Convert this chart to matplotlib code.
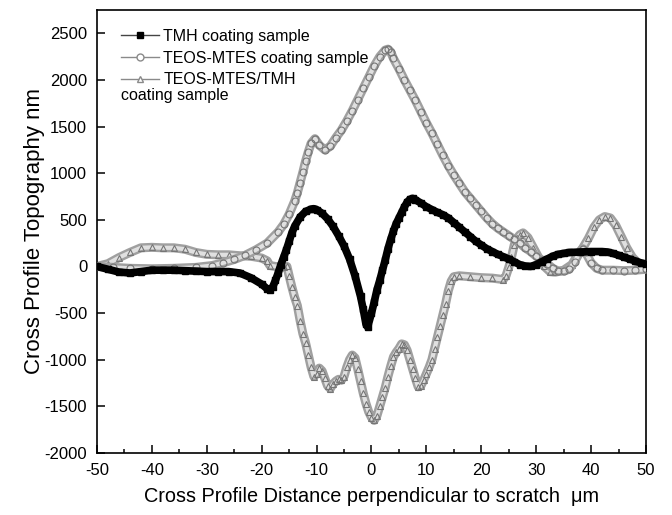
import matplotlib
matplotlib.use("Agg")
import matplotlib.pyplot as plt
from matplotlib.ticker import MultipleLocator
from matplotlib.lines import Line2D

plt.rcParams['font.family'] = ['Liberation Sans', 'DejaVu Sans']
plt.rcParams['axes.unicode_minus'] = False

# ---- data ----
tmh_x = [-50, -48, -46, -44, -42, -40, -38, -36, -34, -32, -30, -28, -26, -24, -22, -20, -19, -18.5, -18, -17.5,
         -17, -16.5, -16, -15.5, -15, -14.5, -14, -13, -12, -11, -10.5, -10, -9, -8, -7, -6, -5, -4, -3, -2,
         -1.5, -1, -0.7, 0, 0.5, 1, 1.5, 2, 2.5, 3, 3.5, 4, 4.5, 5, 5.5, 6, 6.5, 7, 7.5, 8, 9, 10, 11, 12, 13,
         14, 15, 16, 17, 18, 19, 20, 21, 22, 23, 24, 25, 26, 27, 28, 29, 30, 31, 32, 33, 34, 35, 36, 38, 40,
         42, 43, 44, 45, 46, 47, 48, 49, 50]
tmh_y = [0, -30, -60, -70, -55, -40, -40, -40, -45, -50, -55, -55, -55, -70, -120, -190, -240, -250, -220, -150,
         -70, 20, 100, 180, 270, 360, 430, 530, 590, 615, 620, 610, 570, 510, 430, 330, 220, 80, -100, -320,
         -460, -620, -650, -500, -380, -250, -150, -40, 70, 190, 290, 380, 460, 520, 580, 640, 690, 720, 730, 715, 680, 640, 610, 580, 555,
         520, 470, 420, 370, 320, 270, 230, 190, 160, 130, 105, 80, 50, 20, 5, 0, 20, 50, 80, 110, 130, 140, 150, 155, 160,
         160, 155, 140, 120, 100, 80, 60, 40, 25]

teos_x = [-50, -47, -44, -40, -36, -32, -29, -27, -25, -23, -21, -19, -17, -16, -15, -14, -13.5, -13, -12.5, -12,
          -11.5, -11, -10.3, -9.5, -8.5, -7.5, -6.5, -5.5, -4.5, -3.5, -2.5, -1.5, -0.5, 0.5, 1.5, 2.5, 3, 3.5, 4, 5, 6, 7, 8,
          9, 10, 11, 12, 13, 14, 15, 16, 17, 18, 19, 20, 21, 22, 23, 24, 25, 26, 27, 28, 29, 30, 31, 32, 33,
          34, 35, 36, 37, 38, 38.5, 39, 40, 41, 42, 44, 46, 48, 50]
teos_y = [0, -10, -20, -25, -20, -10, 10, 40, 75, 120, 180, 250, 370, 450, 560, 700, 790, 900, 1010, 1130,
          1230, 1320, 1370, 1300, 1250, 1290, 1380, 1460, 1560, 1670, 1790, 1910, 2030, 2150, 2250, 2320, 2330, 2300, 2230, 2120, 2000, 1890, 1780,
          1660, 1540, 1430, 1310, 1190, 1080, 980, 890, 800, 730, 660, 590, 520, 460, 410, 370, 330, 290, 250, 200, 160, 110, 70, 30, -20,
          -50, -50, -30, 50, 160, 190, 150, 40, -20, -40, -40, -45, -40, -30]

mix_x = [-50, -48, -46, -44, -42, -40, -38, -36, -34, -32, -30, -28, -26, -24, -22, -20, -19, -18.5, -17, -16,
         -15.4, -15, -14.5, -14, -13.5, -13, -12.5, -12, -11.5, -11, -10.5, -10, -9.5, -9, -8.5, -8, -7.5, -7, -6.5, -6,
         -5.5, -5, -4.5, -4, -3.5, -3, -2.5, -2, -1.5, -1, -0.5, 0, 0.5, 1, 1.5, 2, 2.5, 3, 3.5, 4, 4.5, 5, 5.5, 6,
         6.5, 7, 7.5, 8, 8.5, 9, 9.5, 10, 10.5, 11, 11.5, 12, 12.5, 13, 13.5, 14, 14.5, 15, 16, 18, 20, 22, 24, 24.5,
         25, 25.5, 26, 26.5, 27, 27.6, 28.5, 29.5, 30.5, 31.5, 32.5, 33.5, 35, 36.5, 37.5, 38.5, 39.5, 40.5, 41.5,
         42.5, 43.5, 44.5, 45.5, 46.5, 47.5, 48.5, 50]
mix_y = [0, 30, 95, 150, 200, 205, 200, 200, 185, 150, 130, 125, 125, 115, 110, 90, 60, 10, -5, -5,
         0, -100, -220, -330, -420, -580, -720, -820, -950, -1080, -1180, -1150, -1090, -1120, -1200, -1280, -1310, -1260, -1230, -1210,
         -1220, -1180, -1080, -1000, -950, -980, -1100, -1230, -1360, -1470, -1560, -1620, -1650, -1600, -1500, -1400, -1300, -1180, -1070, -970, -920, -880, -830, -840,
         -900, -1000, -1100, -1200, -1290, -1280, -1220, -1150, -1080, -1000, -880, -760, -640, -520, -400, -260, -160, -110, -100, -110, -120, -125, -140, -100,
         -10, 100, 230, 300, 340, 360, 310, 200, 90, 0, -55, -60, -40, 20, 120, 200, 300, 420, 500,
         535, 520, 440, 320, 200, 100, 40, 0]

labels = ["TMH coating sample", "TEOS-MTES coating sample", "TEOS-MTES/TMH"]
x_ticks = [-50, -40, -30, -20, -10, 0, 10, 20, 30, 40, 50]
y_ticks = [-2000, -1500, -1000, -500, 0, 500, 1000, 1500, 2000, 2500]

gray = '#8a8a8a'
band = '#a0a0a0'
inner = '#e0e0e0'

fig = plt.figure(figsize=(6.72, 5.15), dpi=100)
ax = fig.add_axes([0.1443, 0.1204, 0.8170, 0.8602])

for xs, ys, mk, z in [(mix_x, mix_y, '^', 2), (teos_x, teos_y, 'o', 3)]:
    ax.plot(xs, ys, '-', color=band, lw=6.5, solid_capstyle='round', solid_joinstyle='round', zorder=z)
    ax.plot(xs, ys, '-', color=inner, lw=3.0, solid_capstyle='round', solid_joinstyle='round', zorder=z)
    ax.plot(xs, ys, 'none', marker=mk, ms=5, mfc='none', mec='#767676', mew=0.8, zorder=z)

ax.plot(tmh_x, tmh_y, '-', color='black', lw=5.5, solid_capstyle='round', solid_joinstyle='round',
        marker='s', ms=5, mfc='black', mec='black', zorder=4)

ax.set_xlim(-50, 50)
ax.set_ylim(-2000, 2750)
ax.set_xticks(x_ticks)
ax.set_yticks(y_ticks)
ax.xaxis.set_minor_locator(MultipleLocator(5))
ax.tick_params(which='major', direction='in', length=6, width=1.1, labelsize=12, top=False, right=False)
ax.tick_params(which='minor', direction='in', length=3, width=1.1, top=False, right=False)
ax.tick_params(axis='x', pad=7)
ax.tick_params(axis='y', pad=7)
for s in ax.spines.values():
    s.set_linewidth(1.2)

ax.set_xlabel("Cross Profile Distance perpendicular to scratch  \u03bcm", fontsize=14.3, labelpad=7)
ax.set_ylabel("Cross Profile Topography nm", fontsize=16, labelpad=0)

leg_handles = [
    Line2D([], [], color='#444444', lw=1, marker='s', ms=4.5, mfc='black', mec='black'),
    Line2D([], [], color=gray, lw=1, marker='o', ms=5, mfc='white', mec=gray),
    Line2D([], [], color=gray, lw=1, marker='^', ms=5, mfc='white', mec=gray),
]
ax.legend(leg_handles, labels, loc='upper left', bbox_to_anchor=(0.026, 0.979), frameon=False,
          fontsize=11.5, handlelength=2.4, handletextpad=0.25, labelspacing=0.42, borderaxespad=0.2)
ax.text(0.043, 0.808, "coating sample", transform=ax.transAxes, fontsize=11.5, va='center', ha='left')

fig.savefig("out.png", dpi=100)
